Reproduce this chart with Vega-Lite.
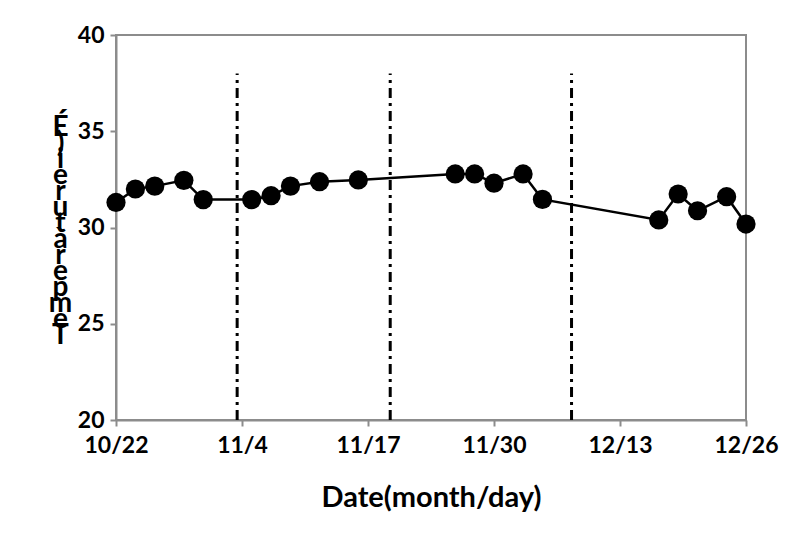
{
  "$schema": "https://vega.github.io/schema/vega-lite/v6.json",
  "width": 630,
  "height": 385,
  "autosize": {"type": "none"},
  "padding": {"left": 116, "top": 35, "right": 64, "bottom": 121},
  "background": "white",
  "config": {
    "view": {"stroke": "#8c8c8c", "strokeWidth": 2},
    "font": "Lato",
    "axis": {"grid": false, "domainColor": "#8c8c8c", "domainWidth": 2, "tickColor": "#8c8c8c", "tickWidth": 2, "tickSize": 6, "labelFont": "Lato", "labelFontWeight": "bold", "labelFontSize": 23, "labelColor": "black", "titleFont": "Lato", "titleFontWeight": "bold", "titleColor": "black"}
  },
  "datasets": {
    "temp": [
      {"date": "2020-10-22", "t": 31.3},
      {"date": "2020-10-24", "t": 32.0},
      {"date": "2020-10-26", "t": 32.15},
      {"date": "2020-10-29", "t": 32.45},
      {"date": "2020-10-31", "t": 31.45},
      {"date": "2020-11-05", "t": 31.45},
      {"date": "2020-11-07", "t": 31.65},
      {"date": "2020-11-09", "t": 32.15},
      {"date": "2020-11-12", "t": 32.38},
      {"date": "2020-11-16", "t": 32.47},
      {"date": "2020-11-26", "t": 32.78},
      {"date": "2020-11-28", "t": 32.78},
      {"date": "2020-11-30", "t": 32.3},
      {"date": "2020-12-03", "t": 32.78},
      {"date": "2020-12-05", "t": 31.46},
      {"date": "2020-12-17", "t": 30.39},
      {"date": "2020-12-19", "t": 31.74},
      {"date": "2020-12-21", "t": 30.87},
      {"date": "2020-12-24", "t": 31.6},
      {"date": "2020-12-26", "t": 30.18}
    ],
    "marks": [
      {"date": "2020-11-03T12:00:00Z", "y0": 20, "y1": 38},
      {"date": "2020-11-19T07:00:00Z", "y0": 20, "y1": 38},
      {"date": "2020-12-08T00:00:00Z", "y0": 20, "y1": 38}
    ]
  },
  "layer": [
    {
      "data": {"name": "marks"},
      "mark": {"type": "rule", "color": "black", "strokeWidth": 3, "strokeDash": [10, 5, 3, 5]},
      "encoding": {
        "x": {"field": "date", "type": "temporal"},
        "y": {"field": "y0", "type": "quantitative"},
        "y2": {"field": "y1"}
      }
    },
    {
      "data": {"name": "temp"},
      "mark": {"type": "line", "color": "black", "strokeWidth": 2.5},
      "encoding": {
        "x": {"field": "date", "type": "temporal"},
        "y": {"field": "t", "type": "quantitative"}
      }
    },
    {
      "data": {"name": "temp"},
      "mark": {"type": "point", "shape": "circle", "filled": true, "color": "black", "opacity": 1, "size": 370},
      "encoding": {
        "x": {
          "field": "date", "type": "temporal",
          "scale": {"type": "utc", "domain": [{"year": 2020, "month": 10, "date": 22, "utc": true}, {"year": 2020, "month": 12, "date": 26, "utc": true}], "nice": false},
          "axis": {
            "values": [
              {"year": 2020, "month": 10, "date": 22, "utc": true},
              {"year": 2020, "month": 11, "date": 4, "utc": true},
              {"year": 2020, "month": 11, "date": 17, "utc": true},
              {"year": 2020, "month": 11, "date": 30, "utc": true},
              {"year": 2020, "month": 12, "date": 13, "utc": true},
              {"year": 2020, "month": 12, "date": 26, "utc": true}
            ],
            "labelExpr": "(utcmonth(datum.value) + 1) + '/' + utcdate(datum.value)",
            "labelPadding": 8,
            "labelFlush": false,
            "labelOverlap": false,
            "title": "Date(month/day)",
            "titleFontSize": 29,
            "titlePadding": 26
          }
        },
        "y": {
          "field": "t", "type": "quantitative",
          "scale": {"domain": [20, 40], "nice": false, "zero": false},
          "axis": {
            "values": [20, 25, 30, 35, 40],
            "labelPadding": 6,
            "title": ["É", ")", "i", "e", "r", "u", "t", "à", "r", "e", "p", "m", "e", "T"],
            "titleAngle": 0,
            "titleFontSize": 28,
            "titleLineHeight": 16,
            "titleAlign": "center",
            "titleBaseline": "top",
            "titleX": -56,
            "titleY": 78
          }
        }
      }
    }
  ]
}
